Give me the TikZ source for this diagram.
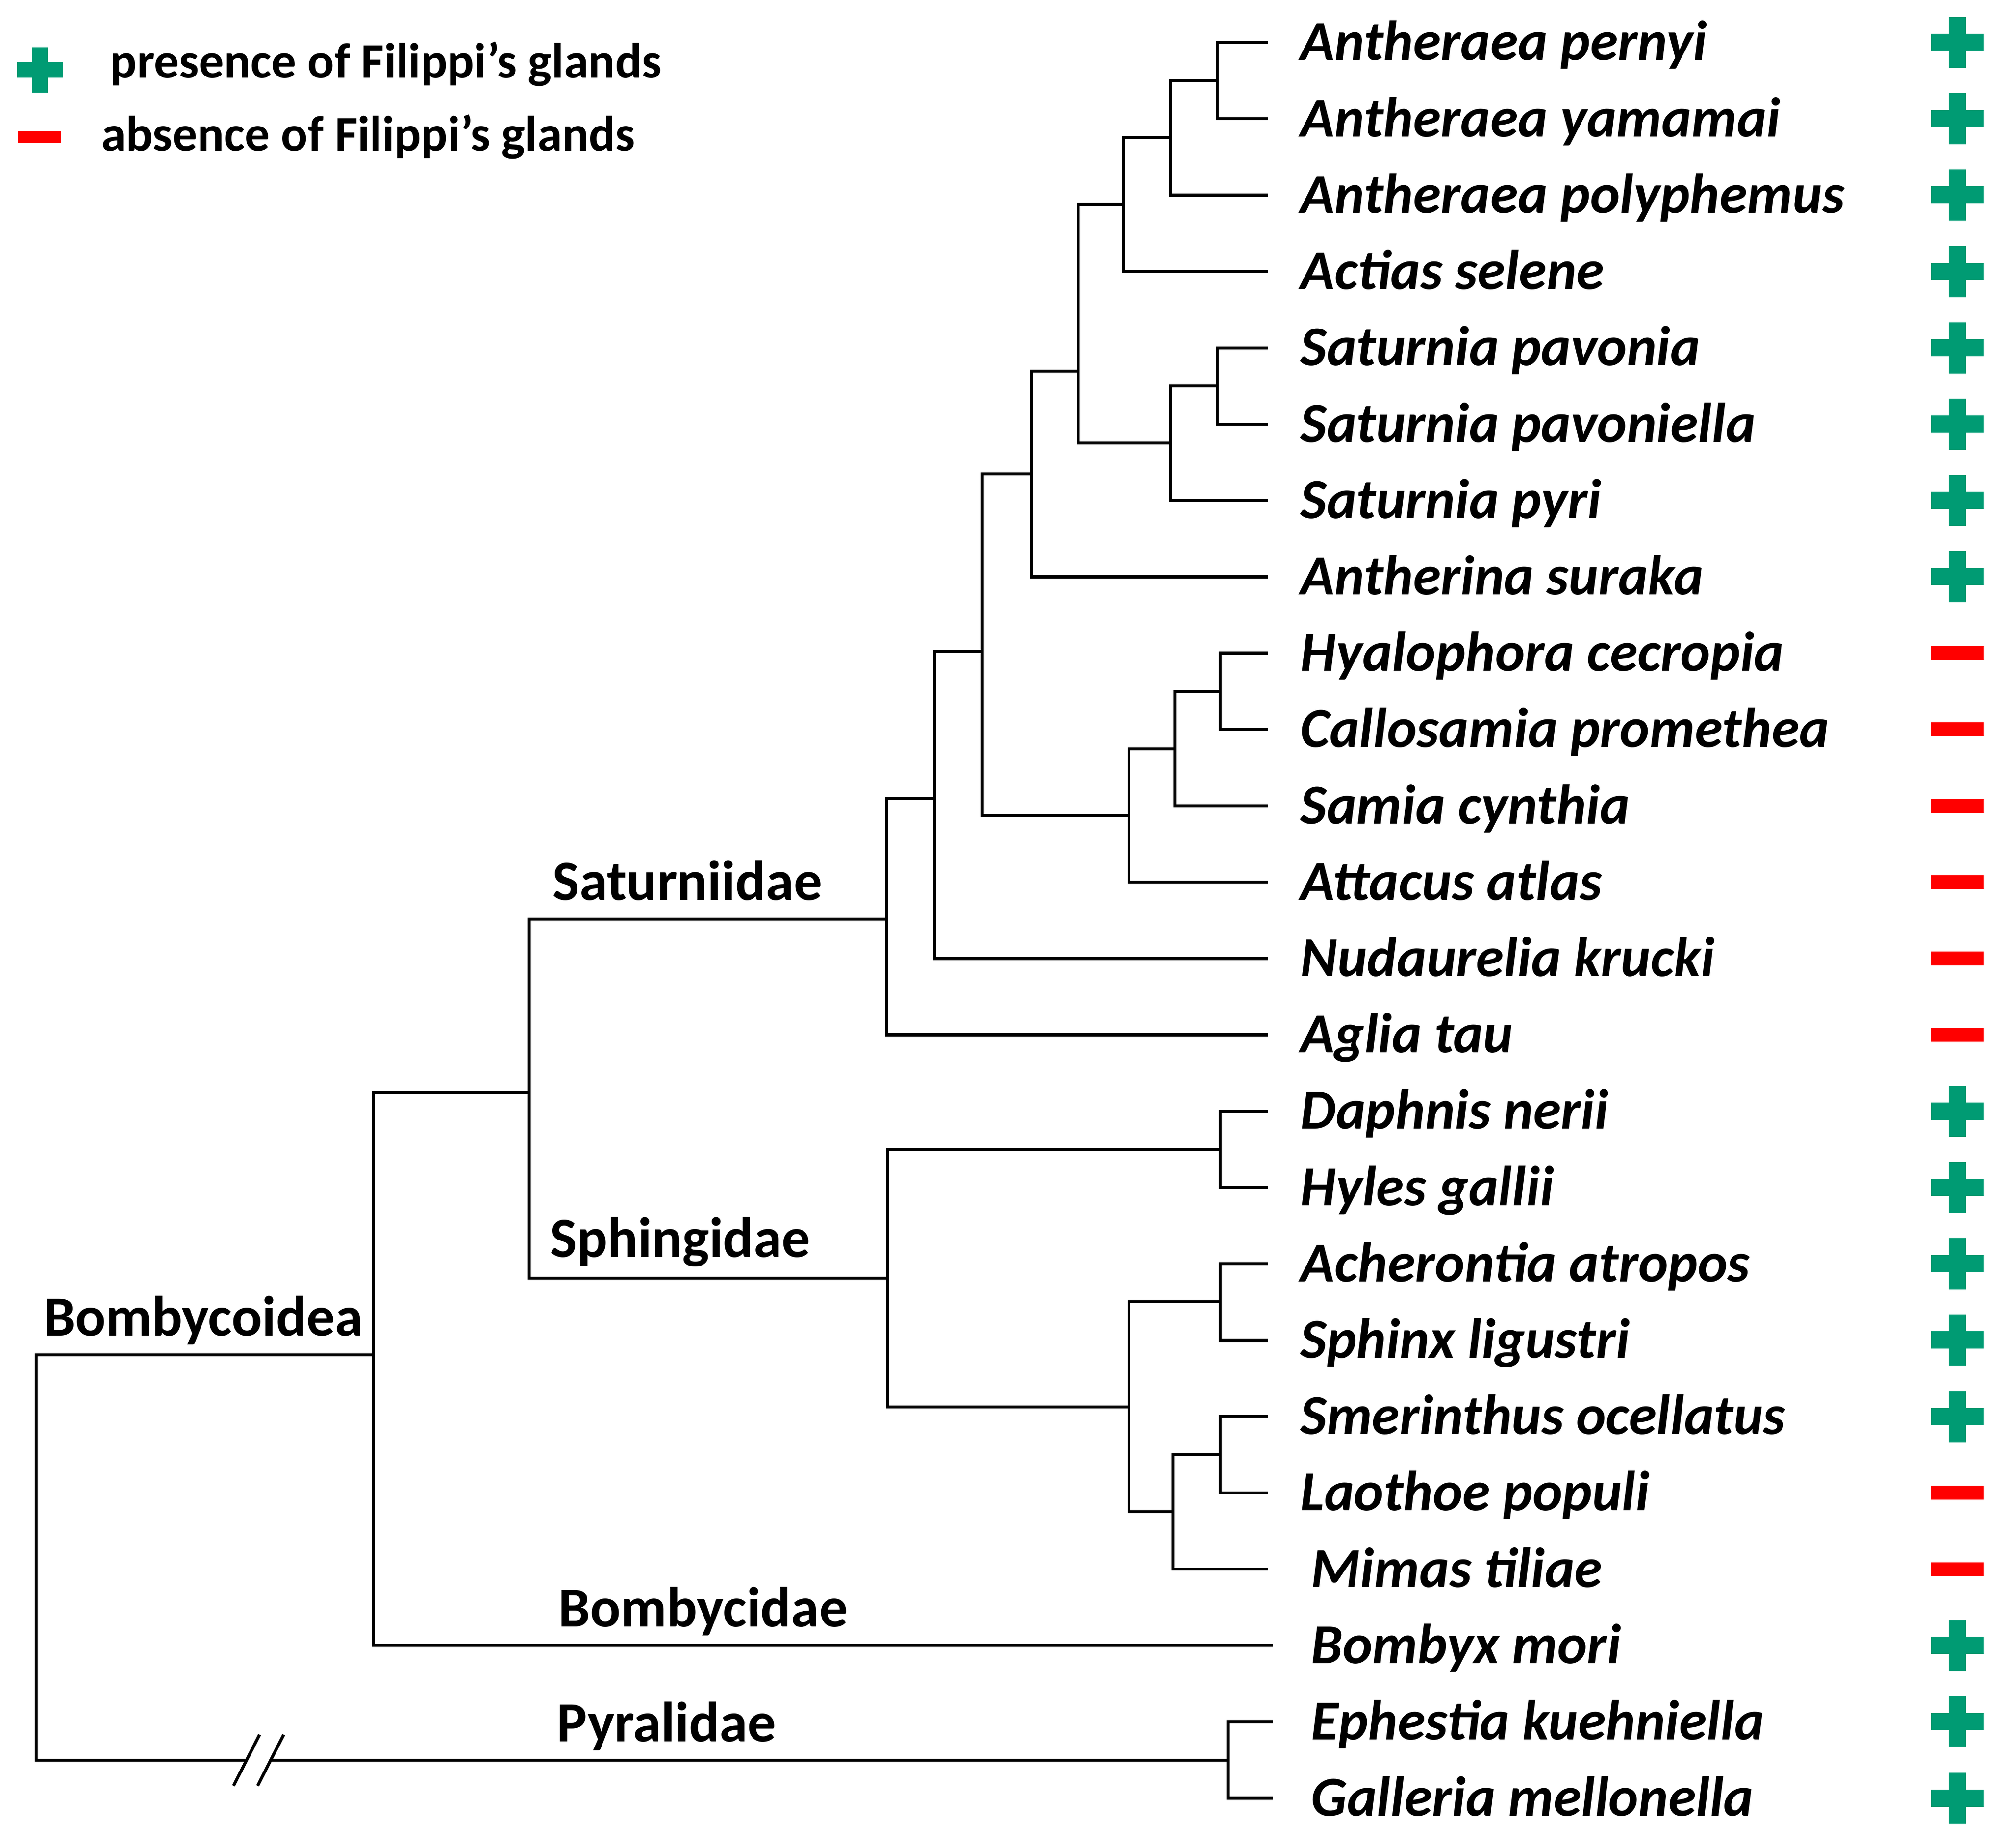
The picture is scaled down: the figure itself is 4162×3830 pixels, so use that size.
\documentclass[tikz,border=0pt]{standalone}
\usepackage{fontspec}
\setmainfont{Carlito}
\definecolor{glandgreen}{RGB}{0,155,115}
\definecolor{glandred}{RGB}{255,0,0}

\begin{document}
\begin{tikzpicture}[x=0.01cm, y=-0.01cm,
    branch/.style={line width=1.8pt},
    species/.style={anchor=base west, inner sep=0pt, font=\fontsize{33.2}{38}\selectfont\bfseries\itshape},
    family/.style={anchor=base west, inner sep=0pt, font=\fontsize{33.4}{38}\selectfont\bfseries},
    legend/.style={anchor=base west, inner sep=0pt, font=\fontsize{29.3}{34}\selectfont\bfseries},
    present/.pic={\fill[glandgreen] (-55,-18) rectangle (55,18);
                  \fill[glandgreen] (-18,-53) rectangle (18,53);},
    absent/.pic={\fill[glandred] (-55,-14.5) rectangle (55,14.5);}]

\useasboundingbox (0,0) rectangle (4162,3830);

% legend
\pic at (83,145) [scale=0.88] {present};
\node[legend] (legpres) at (228,162) {presence of Filippi’s glands};
\pic at (82,284) [scale=0.82] {absent};
\node[legend] (legabs) at (210,313) {absence of Filippi’s glands};

% species, one row each
\foreach \sp [count=\i] in {Antheraea pernyi, Antheraea yamamai, Antheraea polyphemus,
    Actias selene, Saturnia pavonia, Saturnia pavoniella, Saturnia pyri, Antherina suraka,
    Hyalophora cecropia, Callosamia promethea, Samia cynthia, Attacus atlas,
    Nudaurelia krucki, Aglia tau, Daphnis nerii, Hyles gallii, Acherontia atropos,
    Sphinx ligustri, Smerinthus ocellatus, Laothoe populi, Mimas tiliae, Bombyx mori,
    Ephestia kuehniella, Galleria mellonella} {
    \pgfmathsetmacro{\ry}{88+(\i-1)*158.2}
    \pgfmathsetmacro{\tx}{ifthenelse(\i>21,2638,2628)}
    \pgfmathsetmacro{\sx}{ifthenelse(\i>20,2717,2695)}
    \coordinate (l\i) at (\tx,\ry);
    \node[species] (s\i) at (\sx,\ry+37) {\sp};
}

\foreach \i in {1,...,8,15,16,17,18,19,22,23,24} {
    \pic at (4057,{88+(\i-1)*158.2}) {present};
}
\foreach \i in {9,...,14,20,21} {
    \pic at (4057,{88+(\i-1)*158.2}) {absent};
}

% inner nodes
\coordinate (a12) at (2523,167);
\coordinate (a13) at (2426,285);
\coordinate (a14) at (2328,424);
\coordinate (a56) at (2523,800);
\coordinate (a57) at (2426,918);
\coordinate (a17) at (2235,769);
\coordinate (a18) at (2138,982);
\coordinate (a910) at (2529,1433);
\coordinate (a911) at (2435,1552);
\coordinate (a912) at (2340,1690);
\coordinate (a112) at (2036,1350);
\coordinate (a113) at (1937,1655);
\coordinate (sat) at (1838,1905);
\coordinate (a1516) at (2529,2382);
\coordinate (a1718) at (2529,2698);
\coordinate (a1920) at (2529,3015);
\coordinate (a1921) at (2431,3133);
\coordinate (a1721) at (2340,2916);
\coordinate (sph) at (1840,2649);
\coordinate (satsph) at (1097,2265);
\coordinate (bomb) at (774,2808);
\coordinate (pyr) at (2545,3648);
\coordinate (root) at (75,3230);
\coordinate (brk1) at (511,3648);
\coordinate (brk2) at (561,3648);

% Saturniidae
\draw[branch] (a12) |- (l1) (a12) |- (l2);
\draw[branch] (a13) |- (a12) (a13) |- (l3);
\draw[branch] (a14) |- (a13) (a14) |- (l4);
\draw[branch] (a56) |- (l5) (a56) |- (l6);
\draw[branch] (a57) |- (a56) (a57) |- (l7);
\draw[branch] (a17) |- (a14) (a17) |- (a57);
\draw[branch] (a18) |- (a17) (a18) |- (l8);
\draw[branch] (a910) |- (l9) (a910) |- (l10);
\draw[branch] (a911) |- (a910) (a911) |- (l11);
\draw[branch] (a912) |- (a911) (a912) |- (l12);
\draw[branch] (a112) |- (a18) (a112) |- (a912);
\draw[branch] (a113) |- (a112) (a113) |- (l13);
\draw[branch] (sat) |- (a113) (sat) |- (l14);

% Sphingidae
\draw[branch] (a1516) |- (l15) (a1516) |- (l16);
\draw[branch] (a1718) |- (l17) (a1718) |- (l18);
\draw[branch] (a1920) |- (l19) (a1920) |- (l20);
\draw[branch] (a1921) |- (a1920) (a1921) |- (l21);
\draw[branch] (a1721) |- (a1718) (a1721) |- (a1921);
\draw[branch] (sph) |- (a1516) (sph) |- (a1721);

% families and root
\draw[branch] (satsph) |- (sat) (satsph) |- (sph);
\draw[branch] (bomb) |- (satsph) (bomb) |- (l22);
\draw[branch] (pyr) |- (l23) (pyr) |- (l24);
\draw[branch] (root) |- (bomb) (root) |- (brk1);
\draw[branch] (brk2) -- (pyr);
\draw[branch] (brk1) ++(27,-53) -- ++(-54,106);
\draw[branch] (brk2) ++(27,-53) -- ++(-54,106);

\node[family] (saturniidae) at (1145,1865) {Saturniidae};
\node[family] (sphingidae) at (1140,2605) {Sphingidae};
\node[family] (bombycoidea) at (90,2768) {Bombycoidea};
\node[family] (bombycidae) at (1157,3371) {Bombycidae};
\node[family] (pyralidae) at (1154,3609) {Pyralidae};

\end{tikzpicture}
\end{document}
